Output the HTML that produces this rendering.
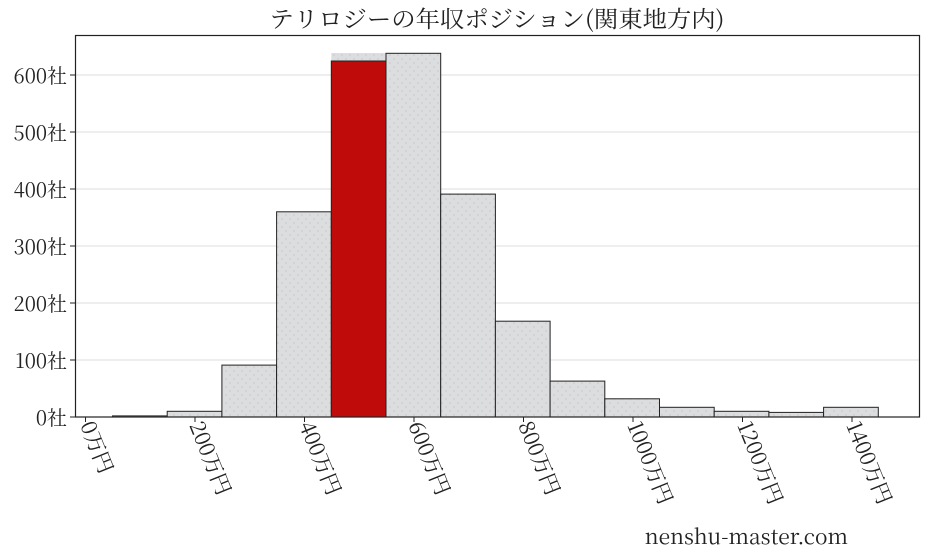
<!DOCTYPE html>
<html><head><meta charset="utf-8"><style>body{margin:0;background:#fff}svg{display:block}text{font-family:"Noto Serif CJK JP","Noto Serif CJK SC",serif;fill:#222}</style></head><body>
<svg width="927" height="557" xmlns="http://www.w3.org/2000/svg">
<defs><pattern id="d" width="8" height="8" patternUnits="userSpaceOnUse"><rect width="8" height="8" fill="#dcdddf"/><circle cx="2" cy="3" r="0.6" fill="#b8b9bc"/><circle cx="6" cy="7" r="0.6" fill="#b8b9bc"/></pattern></defs>
<text x="497" y="27" font-size="23" text-anchor="middle" textLength="455" lengthAdjust="spacingAndGlyphs">テリロジーの年収ポジション(関東地方内)</text>
<g stroke="#ddd" stroke-width="1">
<line x1="75" x2="920" y1="360" y2="360"/><line x1="75" x2="920" y1="303" y2="303"/><line x1="75" x2="920" y1="246" y2="246"/><line x1="75" x2="920" y1="189" y2="189"/><line x1="75" x2="920" y1="132" y2="132"/><line x1="75" x2="920" y1="75" y2="75"/>
</g>
<g fill="url(#d)" stroke="#222" stroke-width="1">
<rect x="112.5" y="415.9" width="54.7" height="1.1"/>
<rect x="167.2" y="411.3" width="54.7" height="5.7"/>
<rect x="221.9" y="365.1" width="54.7" height="51.9"/>
<rect x="276.6" y="211.8" width="54.7" height="205.2"/>
<rect x="331.3" y="53" width="54.7" height="364" stroke="none"/>
<rect x="386" y="53.3" width="54.7" height="363.7"/>
<rect x="440.7" y="194.1" width="54.7" height="222.9"/>
<rect x="495.4" y="321.2" width="54.7" height="95.8"/>
<rect x="550.1" y="381.1" width="54.7" height="35.9"/>
<rect x="604.8" y="398.8" width="54.7" height="18.2"/>
<rect x="659.5" y="407.3" width="54.7" height="9.7"/>
<rect x="714.2" y="411.3" width="54.7" height="5.7"/>
<rect x="768.9" y="412.4" width="54.7" height="4.6"/>
<rect x="823.6" y="407.3" width="54.7" height="9.7"/>
</g>
<rect x="331.3" y="61" width="54.7" height="356" fill="#c00b0b" stroke="#222" stroke-width="1"/>
<rect x="75.5" y="35.5" width="844" height="381.5" fill="none" stroke="#222" stroke-width="1.2"/>
<g font-size="20" text-anchor="end">
<text x="67" y="425">0社</text><text x="67" y="368">100社</text><text x="67" y="311">200社</text><text x="67" y="254">300社</text><text x="67" y="197">400社</text><text x="67" y="140">500社</text><text x="67" y="83">600社</text>
</g>
<g stroke="#222"><line x1="70" x2="75" y1="417" y2="417"/><line x1="70" x2="75" y1="360" y2="360"/><line x1="70" x2="75" y1="303" y2="303"/><line x1="70" x2="75" y1="246" y2="246"/><line x1="70" x2="75" y1="189" y2="189"/><line x1="70" x2="75" y1="132" y2="132"/><line x1="70" x2="75" y1="75" y2="75"/>
<line x1="85.5" x2="85.5" y1="417" y2="422"/><line x1="195" x2="195" y1="417" y2="422"/><line x1="304.5" x2="304.5" y1="417" y2="422"/><line x1="414" x2="414" y1="417" y2="422"/><line x1="523.5" x2="523.5" y1="417" y2="422"/><line x1="633" x2="633" y1="417" y2="422"/><line x1="742.5" x2="742.5" y1="417" y2="422"/><line x1="852" x2="852" y1="417" y2="422"/></g>
<g font-size="21">
<text transform="translate(80,425) rotate(68)">0万円</text>
<text transform="translate(189,425) rotate(68)">200万円</text>
<text transform="translate(299,425) rotate(68)">400万円</text>
<text transform="translate(408,425) rotate(68)">600万円</text>
<text transform="translate(518,425) rotate(68)">800万円</text>
<text transform="translate(627,425) rotate(68)">1000万円</text>
<text transform="translate(737,425) rotate(68)">1200万円</text>
<text transform="translate(846,425) rotate(68)">1400万円</text>
</g>
<text x="848" y="544" font-size="21" text-anchor="end">nenshu-master.com</text>
</svg>
</body></html>
